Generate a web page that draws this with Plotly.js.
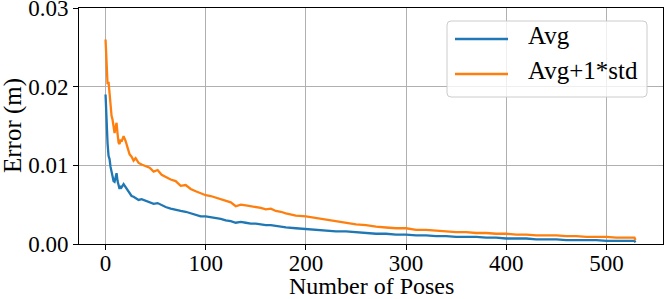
<!DOCTYPE html>
<html>
<head>
<meta charset="utf-8">
<script src="https://cdn.plot.ly/plotly-3.0.1.min.js"></script>
<style>html,body{margin:0;padding:0;background:#fff;}#chart{width:665px;height:299px;}</style>
</head>
<body>
<div id="chart"></div>
<script>
const poses = [0,1,2,3,4,5,6,7,8,9,10,11,12,13,14,15,16,18,20,22,24,26,28,30,33,36,40,44,48,52,56,60,65,70,75,80,85,90,95,100,105,110,115,120,125,130,135,140,145,150,155,160,165,170,175,180,190,200,210,220,230,240,250,260,270,280,290,300,310,320,330,340,350,360,370,380,390,400,410,420,430,440,450,460,470,480,490,500,510,520,528,529];
const avg = [0.0190,0.0145,0.0128,0.0112,0.0108,0.0098,0.0092,0.0086,0.0080,0.0079,0.0086,0.0090,0.0080,0.0072,0.0070,0.0074,0.0072,0.0076,0.0072,0.0068,0.0064,0.0061,0.0060,0.0058,0.0056,0.0057,0.0055,0.0053,0.0051,0.0052,0.0049,0.0047,0.0045,0.0043,0.0042,0.0041,0.0039,0.0037,0.0035,0.0035,0.0034,0.0033,0.0032,0.0030,0.0029,0.0027,0.0028,0.0027,0.0026,0.0026,0.0025,0.0024,0.0024,0.0023,0.0022,0.0021,0.0020,0.0019,0.0018,0.0017,0.0016,0.0016,0.0015,0.0014,0.0013,0.0013,0.0012,0.0012,0.0011,0.0011,0.0010,0.0010,0.0009,0.0009,0.0009,0.0008,0.0008,0.0007,0.0007,0.0007,0.0006,0.0006,0.0006,0.0005,0.0005,0.0005,0.0005,0.0004,0.0004,0.0004,0.0004,0.0002];
const avgStd = [0.0260,0.0215,0.0203,0.0206,0.0188,0.0172,0.0163,0.0158,0.0147,0.0141,0.0148,0.0154,0.0140,0.0129,0.0127,0.0133,0.0130,0.0137,0.0131,0.0121,0.0114,0.0111,0.0106,0.0109,0.0103,0.0101,0.0099,0.0097,0.0092,0.0094,0.0088,0.0085,0.0082,0.0080,0.0074,0.0075,0.0070,0.0067,0.0064,0.0062,0.0061,0.0059,0.0057,0.0055,0.0053,0.0048,0.0050,0.0049,0.0048,0.0047,0.0046,0.0044,0.0045,0.0042,0.0041,0.0039,0.0036,0.0035,0.0033,0.0031,0.0029,0.0027,0.0025,0.0024,0.0022,0.0021,0.0020,0.0020,0.0018,0.0018,0.0017,0.0016,0.0015,0.0015,0.0014,0.0014,0.0013,0.0013,0.0012,0.0012,0.0011,0.0011,0.0011,0.0010,0.0010,0.0009,0.0009,0.0009,0.0008,0.0008,0.0008,0.0005];
const seriesNames = ["Avg", "Avg+1*std"];
const seriesColors = ["#1f77b4", "#ff7f0e"];
const xTicks = [0,100,200,300,400,500];
const yTicks = [0,0.01,0.02,0.03];
const xTitle = "Number of Poses";
const yTitle = "Error (m)";

const FONT = "Liberation Serif";
const W = 665, H = 299;
const PL = 79, PR = 663, PT = 8, PB = 244;
const px = v => (v - PL) / (PR - PL);
const py = v => (PB - v) / (PB - PT);
const LW = 2.3;

const traces = [
  {x: poses, y: avg, name: seriesNames[0], mode: "lines", line: {color: seriesColors[0], width: LW}},
  {x: poses, y: avgStd, name: seriesNames[1], mode: "lines", line: {color: seriesColors[1], width: LW}}
];
const axisCommon = {
  showline: true, linecolor: "#000", linewidth: 1, mirror: true,
  ticks: "outside", ticklen: 5, tickwidth: 1, tickcolor: "#000",
  showgrid: true, gridcolor: "#b0b0b0", gridwidth: 1, zeroline: false,
  ticklabeloverflow: "allow",
  tickfont: {family: FONT, size: 23, color: "#000"}
};

// legend drawn as shapes + text (matplotlib-style box)
const lx0 = 447, lx1 = 647, ly0 = 21, ly1 = 97, rr = 4;
const rx = rr / (PR - PL), ry = rr / (PB - PT);
const X0 = px(lx0), X1 = px(lx1), Y0 = py(ly0), Y1 = py(ly1);
const boxPath = `M ${X0+rx},${Y0} L ${X1-rx},${Y0} Q ${X1},${Y0} ${X1},${Y0-ry} L ${X1},${Y1+ry} Q ${X1},${Y1} ${X1-rx},${Y1} L ${X0+rx},${Y1} Q ${X0},${Y1} ${X0},${Y1+ry} L ${X0},${Y0-ry} Q ${X0},${Y0} ${X0+rx},${Y0} Z`;
const rowsY = [39, 74];
const shapes = [
  {type: "path", xref: "paper", yref: "paper", path: boxPath,
   line: {color: "#cccccc", width: 1}, fillcolor: "rgba(255,255,255,0.8)", layer: "above"}
];
const annotations = [];
seriesNames.forEach((n, i) => {
  shapes.push({type: "line", xref: "paper", yref: "paper",
    x0: px(455), x1: px(508), y0: py(rowsY[i]), y1: py(rowsY[i]),
    line: {color: seriesColors[i], width: LW}, layer: "above"});
  annotations.push({xref: "paper", yref: "paper", x: px(526), y: py(rowsY[i] - 4),
    xanchor: "left", yanchor: "middle", showarrow: false, text: n,
    font: {family: FONT, size: 25, color: "#000"}});
});
annotations.push({xref: "paper", yref: "paper", x: 0.5, y: py(286), xanchor: "center", yanchor: "middle",
  showarrow: false, text: xTitle, font: {family: FONT, size: 24, color: "#000"}});
annotations.push({xref: "paper", yref: "paper", x: px(13), y: 0.5, xanchor: "center", yanchor: "middle",
  textangle: -90, showarrow: false, text: yTitle, font: {family: FONT, size: 25, color: "#000"}});

const layout = {
  width: W, height: H,
  margin: {l: PL, r: W - PR, t: PT, b: H - PB},
  paper_bgcolor: "#fff", plot_bgcolor: "#fff",
  font: {family: FONT, size: 23, color: "#000"},
  xaxis: Object.assign({}, axisCommon, {
    range: [-26.5, 556.5], tickvals: xTicks, ticktext: xTicks.map(String),
    ticklabelstandoff: -7
  }),
  yaxis: Object.assign({}, axisCommon, {
    range: [0, 0.03], tickvals: yTicks, ticktext: yTicks.map(v => v.toFixed(2))
  }),
  shapes: shapes,
  annotations: annotations,
  showlegend: false
};
Plotly.newPlot("chart", traces, layout, {displayModeBar: false, staticPlot: true});
</script>
</body>
</html>
